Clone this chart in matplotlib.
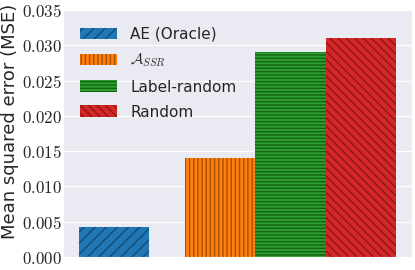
import matplotlib
matplotlib.use("Agg")
import matplotlib.pyplot as plt
from matplotlib.ticker import FuncFormatter
import seaborn as sns

sns.set_style("darkgrid")
plt.rcParams['mathtext.fontset'] = 'cm'
plt.rcParams['hatch.linewidth'] = 1.0

labels = ['AE (Oracle)', r'$\mathcal{A}_{SSR}$', 'Label-random', 'Random']
positions = [0, 1.5, 2.5, 3.5]
mse = [0.0043, 0.0141, 0.0291, 0.0311]
colors = ['#1f77b4', '#ff7f0e', '#2ca02c', '#d62728']
hatch_colors = ['#174a73', '#a84f00', '#166016', '#8c1717']
hatches = ['///', '||||', '-----', '\\\\\\\\']
yticks = [0.000, 0.005, 0.010, 0.015, 0.020, 0.025, 0.030, 0.035]

fig = plt.figure(figsize=(4.15, 2.7), dpi=100)
ax = fig.add_axes([0.152, 0.048, 0.841, 0.915])

for p, v, c, hc, h, lab in zip(positions, mse, colors, hatch_colors, hatches, labels):
    ax.bar(p, v, width=1.0, color=c, edgecolor=hc, hatch=h, linewidth=0, label=lab)

ax.set_ylim(0, 0.035)
ax.set_yticks(yticks)
ax.set_xticks([])
ax.yaxis.set_major_formatter(FuncFormatter(lambda y, _: r'$%.3f$' % y))
ax.tick_params(axis='y', labelsize=12.2, pad=1, length=0)
ax.set_ylabel('Mean squared error (MSE)', fontsize=13)
ax.yaxis.set_label_coords(-0.125, 0.55)
ax.legend(loc='upper left', frameon=False, fontsize=11, handlelength=2.4,
          handleheight=0.8, handletextpad=0.9, labelspacing=0.66,
          borderaxespad=0.7)

fig.savefig('out.png', dpi=100)
